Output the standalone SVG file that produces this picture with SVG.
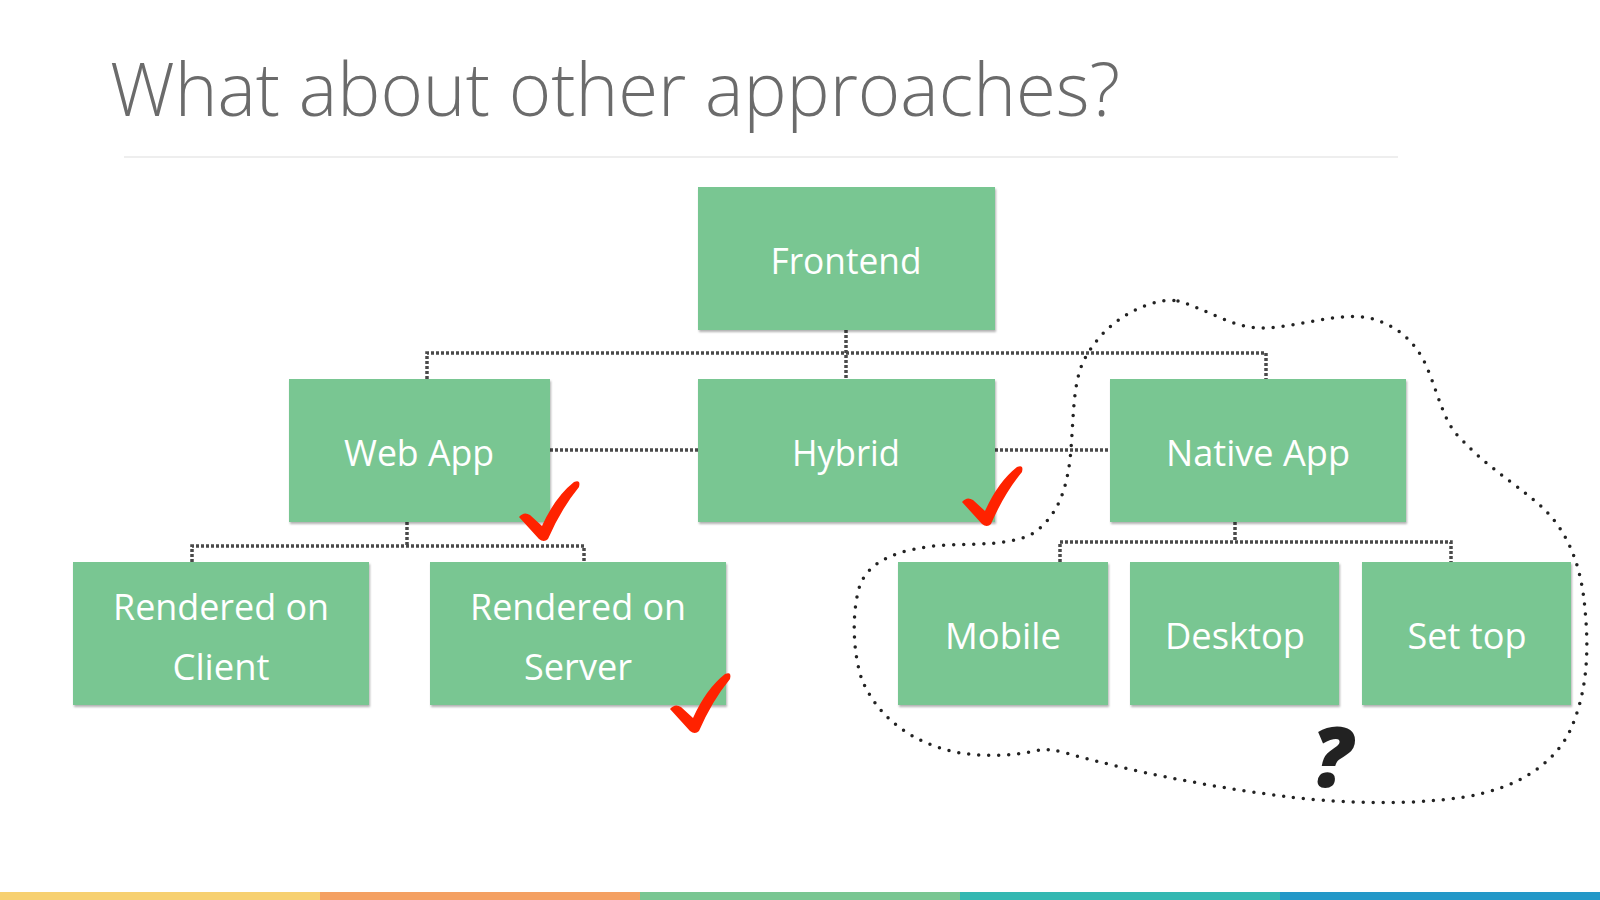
<svg xmlns="http://www.w3.org/2000/svg" xmlns:xlink="http://www.w3.org/1999/xlink" width="1600" height="900" viewBox="0 0 1600 900">
<defs>
<filter id="sh" x="-5%" y="-5%" width="110%" height="115%">
<feDropShadow dx="1" dy="2" stdDeviation="1.2" flood-color="#000" flood-opacity="0.3"/>
</filter>
<path id="check" fill="#FF2200" d="M-24 -20 Q-19 -26 -13 -22 L-1 -11 Q12 -40 31 -55 Q38 -58 36 -50 Q18 -28 5 2 Q1 6 -4 2 Z"/>
</defs>
<style>
.box{fill:#79C692;filter:url(#sh)}
.lbl{font-family:"Open Sans","Liberation Sans",sans-serif;font-size:37px;fill:#fff;text-anchor:middle}
.con{fill:none;stroke:#4a4a4a;stroke-width:3.5;stroke-dasharray:3 2}
</style>
<rect width="1600" height="900" fill="#fff"/>
<text x="110" y="116" font-family="'Open Sans','Liberation Sans',sans-serif" font-weight="300" font-size="74" fill="#6b6b6b" textLength="1010" lengthAdjust="spacingAndGlyphs">What about other approaches?</text>
<rect x="124" y="156" width="1274" height="2" fill="#eeeeee"/>

<g id="connectors">
<path class="con" d="M846 330 V379 M427 379 V353 H1266 V379"/>
<path class="con" d="M550 450 H698 M995 450 H1110"/>
<path class="con" d="M407 522 V546 M192 562 V546 H584 V562"/>
<path class="con" d="M1235 522 V542 M1060 562 V542 H1451 V562"/>
</g>

<g id="frontend"><rect class="box" x="698" y="187" width="297" height="143"/><text class="lbl" x="846" y="274" textLength="151" lengthAdjust="spacingAndGlyphs">Frontend</text></g>
<g id="webapp"><rect class="box" x="289" y="379" width="261" height="143"/><text class="lbl" x="419" y="466" textLength="150" lengthAdjust="spacingAndGlyphs">Web App</text></g>
<g id="hybrid"><rect class="box" x="698" y="379" width="297" height="143"/><text class="lbl" x="846" y="466" textLength="108" lengthAdjust="spacingAndGlyphs">Hybrid</text></g>
<g id="nativeapp"><rect class="box" x="1110" y="379" width="296" height="143"/><text class="lbl" x="1258" y="466" textLength="184" lengthAdjust="spacingAndGlyphs">Native App</text></g>
<g id="client"><rect class="box" x="73" y="562" width="296" height="143"/><text class="lbl" x="221" y="620" textLength="216" lengthAdjust="spacingAndGlyphs">Rendered on</text><text class="lbl" x="221" y="680" textLength="97" lengthAdjust="spacingAndGlyphs">Client</text></g>
<g id="server"><rect class="box" x="430" y="562" width="296" height="143"/><text class="lbl" x="578" y="620" textLength="216" lengthAdjust="spacingAndGlyphs">Rendered on</text><text class="lbl" x="578" y="680" textLength="108" lengthAdjust="spacingAndGlyphs">Server</text></g>
<g id="mobile"><rect class="box" x="898" y="562" width="210" height="143"/><text class="lbl" x="1003" y="649" textLength="116" lengthAdjust="spacingAndGlyphs">Mobile</text></g>
<g id="desktop"><rect class="box" x="1130" y="562" width="209" height="143"/><text class="lbl" x="1235" y="649" textLength="140" lengthAdjust="spacingAndGlyphs">Desktop</text></g>
<g id="settop"><rect class="box" x="1362" y="562" width="209" height="143"/><text class="lbl" x="1467" y="649" textLength="119" lengthAdjust="spacingAndGlyphs">Set top</text></g>

<g id="checks">
<use href="#check" xlink:href="#check" x="543" y="537"/>
<use href="#check" xlink:href="#check" x="986" y="522"/>
<use href="#check" xlink:href="#check" x="694" y="729"/>
</g>

<path id="blob" fill="none" stroke="#222" stroke-width="3.5" stroke-linecap="round" stroke-dasharray="0 10" d="M1178 301 C1205 308 1235 330 1266 328 C1300 326 1340 312 1370 318 C1400 326 1418 345 1428 370 C1440 400 1445 425 1462 440 C1490 470 1525 490 1545 510 C1570 535 1582 570 1585 610 C1590 660 1585 700 1568 735 C1545 775 1500 795 1440 800 C1390 805 1330 802 1290 797 C1230 790 1150 775 1100 762 C1070 755 1055 748 1040 750 C1010 757 970 758 940 748 C900 735 875 710 862 680 C852 650 852 610 860 585 C870 560 900 548 946 545 C980 544 1015 545 1035 532 C1058 515 1066 490 1070 460 C1074 420 1072 385 1084 360 C1100 330 1125 312 1150 304 C1162 300 1170 300 1178 301 Z"/>

<text x="1332" y="787" font-family="'Open Sans','Liberation Sans',sans-serif" font-weight="800" font-style="italic" font-size="84" fill="#222" text-anchor="middle">?</text>

<g id="bar">
<rect x="0" y="892" width="320" height="8" fill="#F7D070"/>
<rect x="320" y="892" width="320" height="8" fill="#F4A062"/>
<rect x="640" y="892" width="320" height="8" fill="#79C692"/>
<rect x="960" y="892" width="320" height="8" fill="#33B8B2"/>
<rect x="1280" y="892" width="320" height="8" fill="#2398C8"/>
</g>
</svg>
